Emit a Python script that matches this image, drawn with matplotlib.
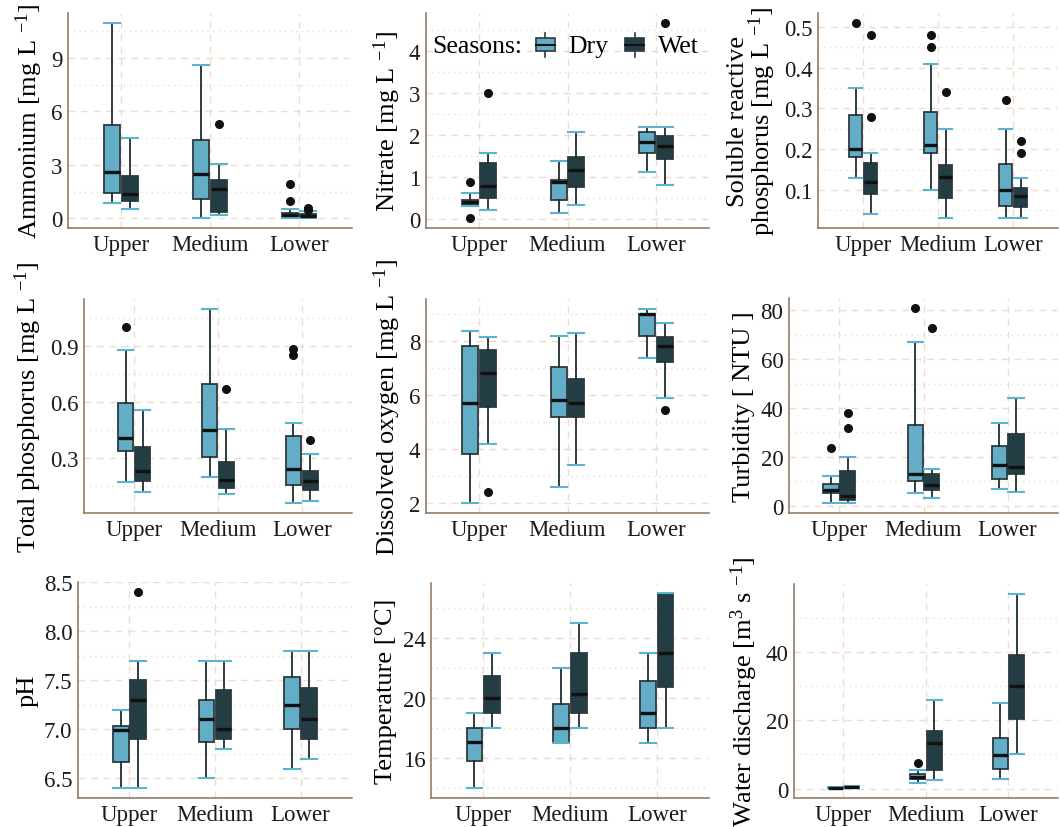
import matplotlib
matplotlib.use("Agg")
import matplotlib.pyplot as plt
from matplotlib.ticker import MultipleLocator, AutoMinorLocator
from matplotlib.patches import Patch, Rectangle
from matplotlib.lines import Line2D
from matplotlib.legend_handler import HandlerBase

plt.rcParams["font.family"] = ["Liberation Serif", "DejaVu Serif"]
plt.rcParams["mathtext.fontset"] = "custom"
plt.rcParams["mathtext.rm"] = "Liberation Serif"
plt.rcParams["mathtext.it"] = "Liberation Serif:italic"

#--------------------------------------------------------------------------------------
sites = ["Upper", "Medium", "Lower"]
seasons = ["Dry", "Wet"]

# (low whisker, q1, median, q3, high whisker) for Upper, Medium, Lower
nh4_dry = [(0.84, 1.44, 2.58, 5.23, 10.98), (0.0, 1.06, 2.5, 4.37, 8.59), (0.0, 0.06, 0.2, 0.28, 0.52)]
nh4_wet = [(0.52, 0.95, 1.34, 2.37, 4.52), (0.17, 0.37, 1.62, 2.15, 3.04), (0.0, 0.04, 0.15, 0.23, 0.38)]
nh4_out_dry = [[], [], [1.9, 0.97]]
nh4_out_wet = [[], [5.28], [0.6, 0.5, 0.45]]

no3_dry = [(0.32, 0.35, 0.41, 0.47, 0.62), (0.15, 0.47, 0.89, 0.94, 1.38), (1.12, 1.57, 1.83, 2.08, 2.19)]
no3_wet = [(0.22, 0.52, 0.80, 1.33, 1.59), (0.35, 0.77, 1.18, 1.48, 2.08), (0.81, 1.43, 1.75, 1.99, 2.19)]
no3_out_dry = [[0.89, 0.03], [], []]
no3_out_wet = [[3.0], [], [4.67]]

srp_dry = [(0.13, 0.182, 0.201, 0.285, 0.35), (0.10, 0.191, 0.211, 0.292, 0.41), (0.031, 0.06, 0.10, 0.163, 0.25)]
srp_wet = [(0.041, 0.09, 0.121, 0.166, 0.19), (0.031, 0.08, 0.131, 0.161, 0.25), (0.031, 0.058, 0.086, 0.106, 0.13)]
srp_out_dry = [[0.51], [0.48, 0.45], [0.32]]
srp_out_wet = [[0.48, 0.28], [0.34], [0.22, 0.19]]

tp_dry = [(0.17, 0.34, 0.409, 0.592, 0.877), (0.198, 0.305, 0.45, 0.696, 1.097), (0.059, 0.154, 0.24, 0.416, 0.488)]
tp_wet = [(0.121, 0.179, 0.231, 0.358, 0.559), (0.108, 0.138, 0.182, 0.279, 0.457), (0.07, 0.128, 0.179, 0.231, 0.321)]
tp_out_dry = [[1.0], [], [0.881, 0.851]]
tp_out_wet = [[], [0.668], [0.399]]

do_dry = [(2.0, 3.81, 5.71, 7.84, 8.40), (2.60, 5.21, 5.81, 7.05, 8.21), (7.40, 8.2, 9.0, 9.01, 9.21)]
do_wet = [(4.21, 5.58, 6.81, 7.67, 8.15), (3.41, 5.21, 5.70, 6.62, 8.31), (5.91, 7.22, 7.82, 8.15, 8.67)]
do_out_dry = [[], [], []]
do_out_wet = [[2.40], [], [5.47]]

turb_dry = [(0.95, 5.0, 6.2, 8.7, 12.2), (5.0, 9.9, 12.9, 32.9, 67.1), (6.8, 10.8, 16.7, 24.5, 34.0)]
turb_wet = [(0.95, 2.4, 3.8, 14.2, 20.1), (3.1, 6.2, 8.5, 13.0, 15.0), (5.4, 12.9, 15.7, 29.2, 44.1)]
turb_out_dry = [[23.5], [81.1], []]
turb_out_wet = [[38.1, 32.0], [72.9], []]

ph_dry = [(6.40, 6.67, 6.99, 7.03, 7.20), (6.50, 6.87, 7.10, 7.30, 7.70), (6.60, 7.0, 7.25, 7.53, 7.80)]
ph_wet = [(6.40, 6.90, 7.30, 7.50, 7.70), (6.80, 6.90, 7.0, 7.40, 7.70), (6.70, 6.90, 7.10, 7.42, 7.80)]
ph_out_dry = [[], [], []]
ph_out_wet = [[8.40], [], []]

temp_dry = [(14.0, 15.78, 17.05, 18.0, 19.0), (17.0, 17.0, 18.0, 19.6, 22.0), (17.0, 18.0, 19.0, 21.16, 23.0)]
temp_wet = [(18.0, 19.0, 20.0, 21.47, 23.0), (18.0, 19.0, 20.3, 23.0, 25.0), (18.0, 20.75, 23.0, 27.0, 27.0)]
temp_out_dry = [[], [], []]
temp_out_wet = [[], [], []]

q_dry = [(0.1, 0.15, 0.25, 0.4, 0.5), (1.7, 2.7, 3.5, 4.3, 5.6), (2.7, 5.8, 9.8, 14.9, 25.1)]
q_wet = [(0.2, 0.35, 0.5, 0.75, 0.9), (2.6, 5.6, 13.4, 17.0, 26.0), (10.0, 20.5, 30.1, 39.2, 57.1)]
q_out_dry = [[], [7.4], []]
q_out_wet = [[], [], []]

ylabels = [
    r"Ammonium [mg L $^{-1}$]",
    r"Nitrate [mg L $^{-1}$]",
    "Soluble reactive\n" + r"phosphorus [mg L $^{-1}$]",
    r"Total phosphorus [mg L $^{-1}$]",
    r"Dissolved oxygen [mg L $^{-1}$]",
    "Turbidity [ NTU ]",
    "pH",
    "Temperature [°C]",
    r"Water discharge [m$^3$ s $^{-1}$]",
]
major_steps = [3, 1, 0.1, 0.3, 2, 20, 0.5, 4, 20]

panels = [
    (nh4_dry, nh4_wet, nh4_out_dry, nh4_out_wet),
    (no3_dry, no3_wet, no3_out_dry, no3_out_wet),
    (srp_dry, srp_wet, srp_out_dry, srp_out_wet),
    (tp_dry, tp_wet, tp_out_dry, tp_out_wet),
    (do_dry, do_wet, do_out_dry, do_out_wet),
    (turb_dry, turb_wet, turb_out_dry, turb_out_wet),
    (ph_dry, ph_wet, ph_out_dry, ph_out_wet),
    (temp_dry, temp_wet, temp_out_dry, temp_out_wet),
    (q_dry, q_wet, q_out_dry, q_out_wet),
]

# panel boxes in pixels: left, top, right, bottom
boxes_px = [
    (68, 14, 352, 229), (426, 14, 709, 229), (818, 14, 1058, 229),
    (84, 300, 352, 514), (426, 300, 709, 514), (789, 299, 1058, 514),
    (78, 583, 352, 799), (431, 584, 709, 799), (794, 585, 1058, 799),
]

#--------------------------------------------------------------------------------------
DRY = "#63aec6"
WET = "#233d45"
EDGE = "#2c3a3f"
CAP = "#5ab3cf"
GRID = "#f0dccc"
SPINE = "#8b7259"
W, H = 1060, 828


class BoxKey(HandlerBase):
    def create_artists(self, legend, orig, xd, yd, w, h, fontsize, trans):
        fc = orig.get_facecolor()
        x0 = xd + 0.05 * w
        r = Rectangle((x0, yd + 0.1 * h), 0.9 * w, 0.8 * h, facecolor=fc,
                      edgecolor=EDGE, lw=1.2, transform=trans)
        m = Line2D([x0, x0 + 0.9 * w], [yd + 0.5 * h] * 2, color="#111111", lw=1.5, transform=trans)
        lo = Line2D([xd + 0.5 * w] * 2, [yd - 0.25 * h, yd + 0.1 * h], color=EDGE, lw=1.2, transform=trans)
        hi = Line2D([xd + 0.5 * w] * 2, [yd + 0.9 * h, yd + 1.25 * h], color=EDGE, lw=1.2, transform=trans)
        return [lo, hi, r, m]


def stats_for(summary, outliers):
    out = []
    for s, o in zip(summary, outliers):
        out.append(dict(whislo=s[0], q1=s[1], med=s[2], q3=s[3], whishi=s[4], fliers=o))
    return out


fig = plt.figure(figsize=(W / 100, H / 100), dpi=100)
fig.patch.set_facecolor("white")

xs = [1, 2, 3]
bw = 0.18
for i, (dry, wet, odry, owet) in enumerate(panels):
    l, t, r, b = boxes_px[i]
    ax = fig.add_axes([l / W, 1 - b / H, (r - l) / W, (b - t) / H])

    for summ, outs, col, off in [(dry, odry, DRY, -0.1), (wet, owet, WET, 0.1)]:
        ax.bxp(stats_for(summ, outs), positions=[x + off for x in xs], widths=bw,
               patch_artist=True, showfliers=True, capwidths=bw, manage_ticks=False,
               boxprops=dict(facecolor=col, edgecolor=EDGE, linewidth=1.3),
               medianprops=dict(color="#111111", linewidth=2.4),
               whiskerprops=dict(color="#1e2d32", linewidth=1.3),
               capprops=dict(color=CAP, linewidth=1.5),
               flierprops=dict(marker="o", markerfacecolor="#111111", markeredgecolor="#111111",
                               markersize=5.5))

    # y range from the data with a 5% margin
    vals = [v for s in dry + wet for v in s] + [v for o in odry + owet for v in o]
    lo, hi = min(vals), max(vals)
    pad = (hi - lo) * 0.05
    ax.set_ylim(lo - pad, hi + pad)
    ax.set_xlim(0.4, 3.6)
    ax.set_xticks(xs)
    ax.set_xticklabels(sites)
    ax.yaxis.set_major_locator(MultipleLocator(major_steps[i]))
    ax.yaxis.set_minor_locator(AutoMinorLocator(2))

    ax.grid(True, which="major", axis="both", color=GRID, linestyle=(0, (5, 4)), linewidth=1.0)
    ax.grid(True, which="minor", axis="y", color=GRID, linestyle=(0, (1, 3)), linewidth=1.0)
    ax.set_axisbelow(True)
    for sp in ["top", "right"]:
        ax.spines[sp].set_visible(False)
    for sp in ["left", "bottom"]:
        ax.spines[sp].set_color(SPINE)
        ax.spines[sp].set_linewidth(1.1)
    ax.tick_params(which="both", length=0, labelsize=16.5, pad=4, colors="#1a1a1a")
    ax.set_ylabel(ylabels[i], fontsize=19, labelpad=4, linespacing=0.9)

    if i == 1:
        fig.text(432 / W, 1 - 47 / H, "Seasons:", fontsize=18.5, va="center", ha="left")
        handles = [Patch(facecolor=DRY), Patch(facecolor=WET)]
        ax.legend(handles, seasons, handler_map={Patch: BoxKey()}, ncol=2, frameon=False,
                  fontsize=18.5, loc="center left", bbox_to_anchor=(535 / W, 1 - 47 / H),
                  bbox_transform=fig.transFigure, handlelength=0.8, handleheight=0.6,
                  handletextpad=0.5, columnspacing=0.62, borderaxespad=0, borderpad=0)

fig.savefig("out.png", dpi=100)
